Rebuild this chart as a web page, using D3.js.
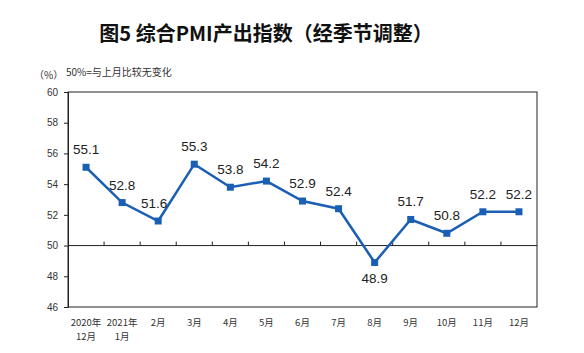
<!DOCTYPE html>
<html>
<head>
<meta charset="utf-8">
<script src="https://cdn.jsdelivr.net/npm/d3@7"></script>
<style>
  body { margin: 0; background: #fff; }
  text { font-family: "Liberation Sans", Arial, "Noto Sans CJK SC", sans-serif; }
</style>
</head>
<body>
<div id="chart-area"></div>
<script>
var months = ["2020年|12月", "2021年|1月", "2月", "3月", "4月", "5月", "6月", "7月", "8月", "9月", "10月", "11月", "12月"];
var values = [55.1, 52.8, 51.6, 55.3, 53.8, 54.2, 52.9, 52.4, 48.9, 51.7, 50.8, 52.2, 52.2];
var yTicks = [46, 48, 50, 52, 54, 56, 58, 60];

var total_width = 584;
var total_height = 353;
var margin = {top: 92, right: 47, bottom: 46, left: 68};
var width = total_width - margin.left - margin.right;
var height = total_height - margin.top - margin.bottom;

var svg = d3.select('#chart-area').append('svg')
            .attr("width", total_width)
            .attr("height", total_height);

svg.append('text')
   .attr("x", 266).attr("y", 41)
   .attr("text-anchor", "middle")
   .attr("font-size", "20px")
   .attr("font-weight", "bold")
   .style("font-family", "'Noto Sans CJK SC', sans-serif")
   .attr("fill", "#111")
   .text("图5 综合PMI产出指数（经季节调整）");

svg.append('text')
   .attr("x", 34).attr("y", 79)
   .attr("font-size", "10px").attr("fill", "#333")
   .style("font-family", "'Noto Sans CJK SC', sans-serif")
   .text("（%）");
svg.append('text')
   .attr("x", 66).attr("y", 76)
   .attr("font-size", "10px").attr("fill", "#333")
   .style("font-family", "'Noto Sans CJK SC', sans-serif")
   .text("50%=与上月比较无变化");

var chart = svg.append('g')
               .attr("transform", "translate(" + margin.left + "," + margin.top + ")");

var x = d3.scaleBand().domain(months).range([0, width]);
var y = d3.scaleLinear().domain([46, 60]).range([height, 0]);

// frame
chart.append('rect')
     .attr("width", width).attr("height", height)
     .attr("fill", "none").attr("stroke", "#222").attr("stroke-width", 1);

var yAxis = d3.axisLeft(y).tickValues(yTicks).tickSize(4).tickPadding(6);
chart.append('g').attr("class", "axis").call(yAxis)
     .call(function(g) {
       g.select(".domain").attr("stroke", "#222");
       g.selectAll(".tick line").attr("stroke", "#222");
       g.selectAll(".tick text").attr("font-size", "10px").attr("fill", "#333")
        .style("font-family", "'Liberation Sans', Arial, sans-serif");
     });

// 50 line with category ticks
chart.append('line')
     .attr("x1", 0).attr("x2", width)
     .attr("y1", y(50)).attr("y2", y(50))
     .attr("stroke", "#222").attr("stroke-width", 1);

chart.selectAll('.cat-tick').data(months.slice(1)).enter().append('line')
     .attr("class", "cat-tick")
     .attr("x1", function(d) { return x(d); })
     .attr("x2", function(d) { return x(d); })
     .attr("y1", y(50)).attr("y2", y(50) - 4)
     .attr("stroke", "#222");

// x labels
var labels = chart.selectAll('.xlab').data(months).enter().append('text')
     .attr("class", "xlab")
     .attr("text-anchor", "middle")
     .attr("font-size", "9.5px").attr("fill", "#333")
     .style("font-family", "'Noto Sans CJK SC', sans-serif");
labels.each(function(d) {
  var parts = d.split("|");
  var t = d3.select(this);
  parts.forEach(function(p, i) {
    t.append('tspan')
     .attr("x", x(d) + x.bandwidth() / 2)
     .attr("y", height + 19 + i * 14)
     .text(p);
  });
});

var data = months.map(function(m, i) { return {m: m, v: values[i]}; });

var lineFunction = d3.line()
     .x(function(d) { return x(d.m) + x.bandwidth() / 2; })
     .y(function(d) { return y(d.v); });

var blue = "#1a5fb4";

chart.append('path')
     .datum(data)
     .attr("d", lineFunction)
     .attr("fill", "none")
     .attr("stroke", blue)
     .attr("stroke-width", 2.5);

chart.selectAll('.pt').data(data).enter().append('rect')
     .attr("class", "pt")
     .attr("x", function(d) { return x(d.m) + x.bandwidth() / 2 - 3.5; })
     .attr("y", function(d) { return y(d.v) - 3.5; })
     .attr("width", 7).attr("height", 7)
     .attr("fill", blue);

chart.selectAll('.val').data(data).enter().append('text')
     .attr("class", "val")
     .attr("text-anchor", "middle")
     .attr("font-size", "13.5px").attr("fill", "#222")
     .attr("x", function(d, i) { return x(d.m) + x.bandwidth() / 2 - (i === 2 ? 4 : 0); })
     .attr("y", function(d) { return d.v < 50 ? y(d.v) + 21 : y(d.v) - 13; })
     .text(function(d) { return d.v.toFixed(1); });
</script>
</body>
</html>
